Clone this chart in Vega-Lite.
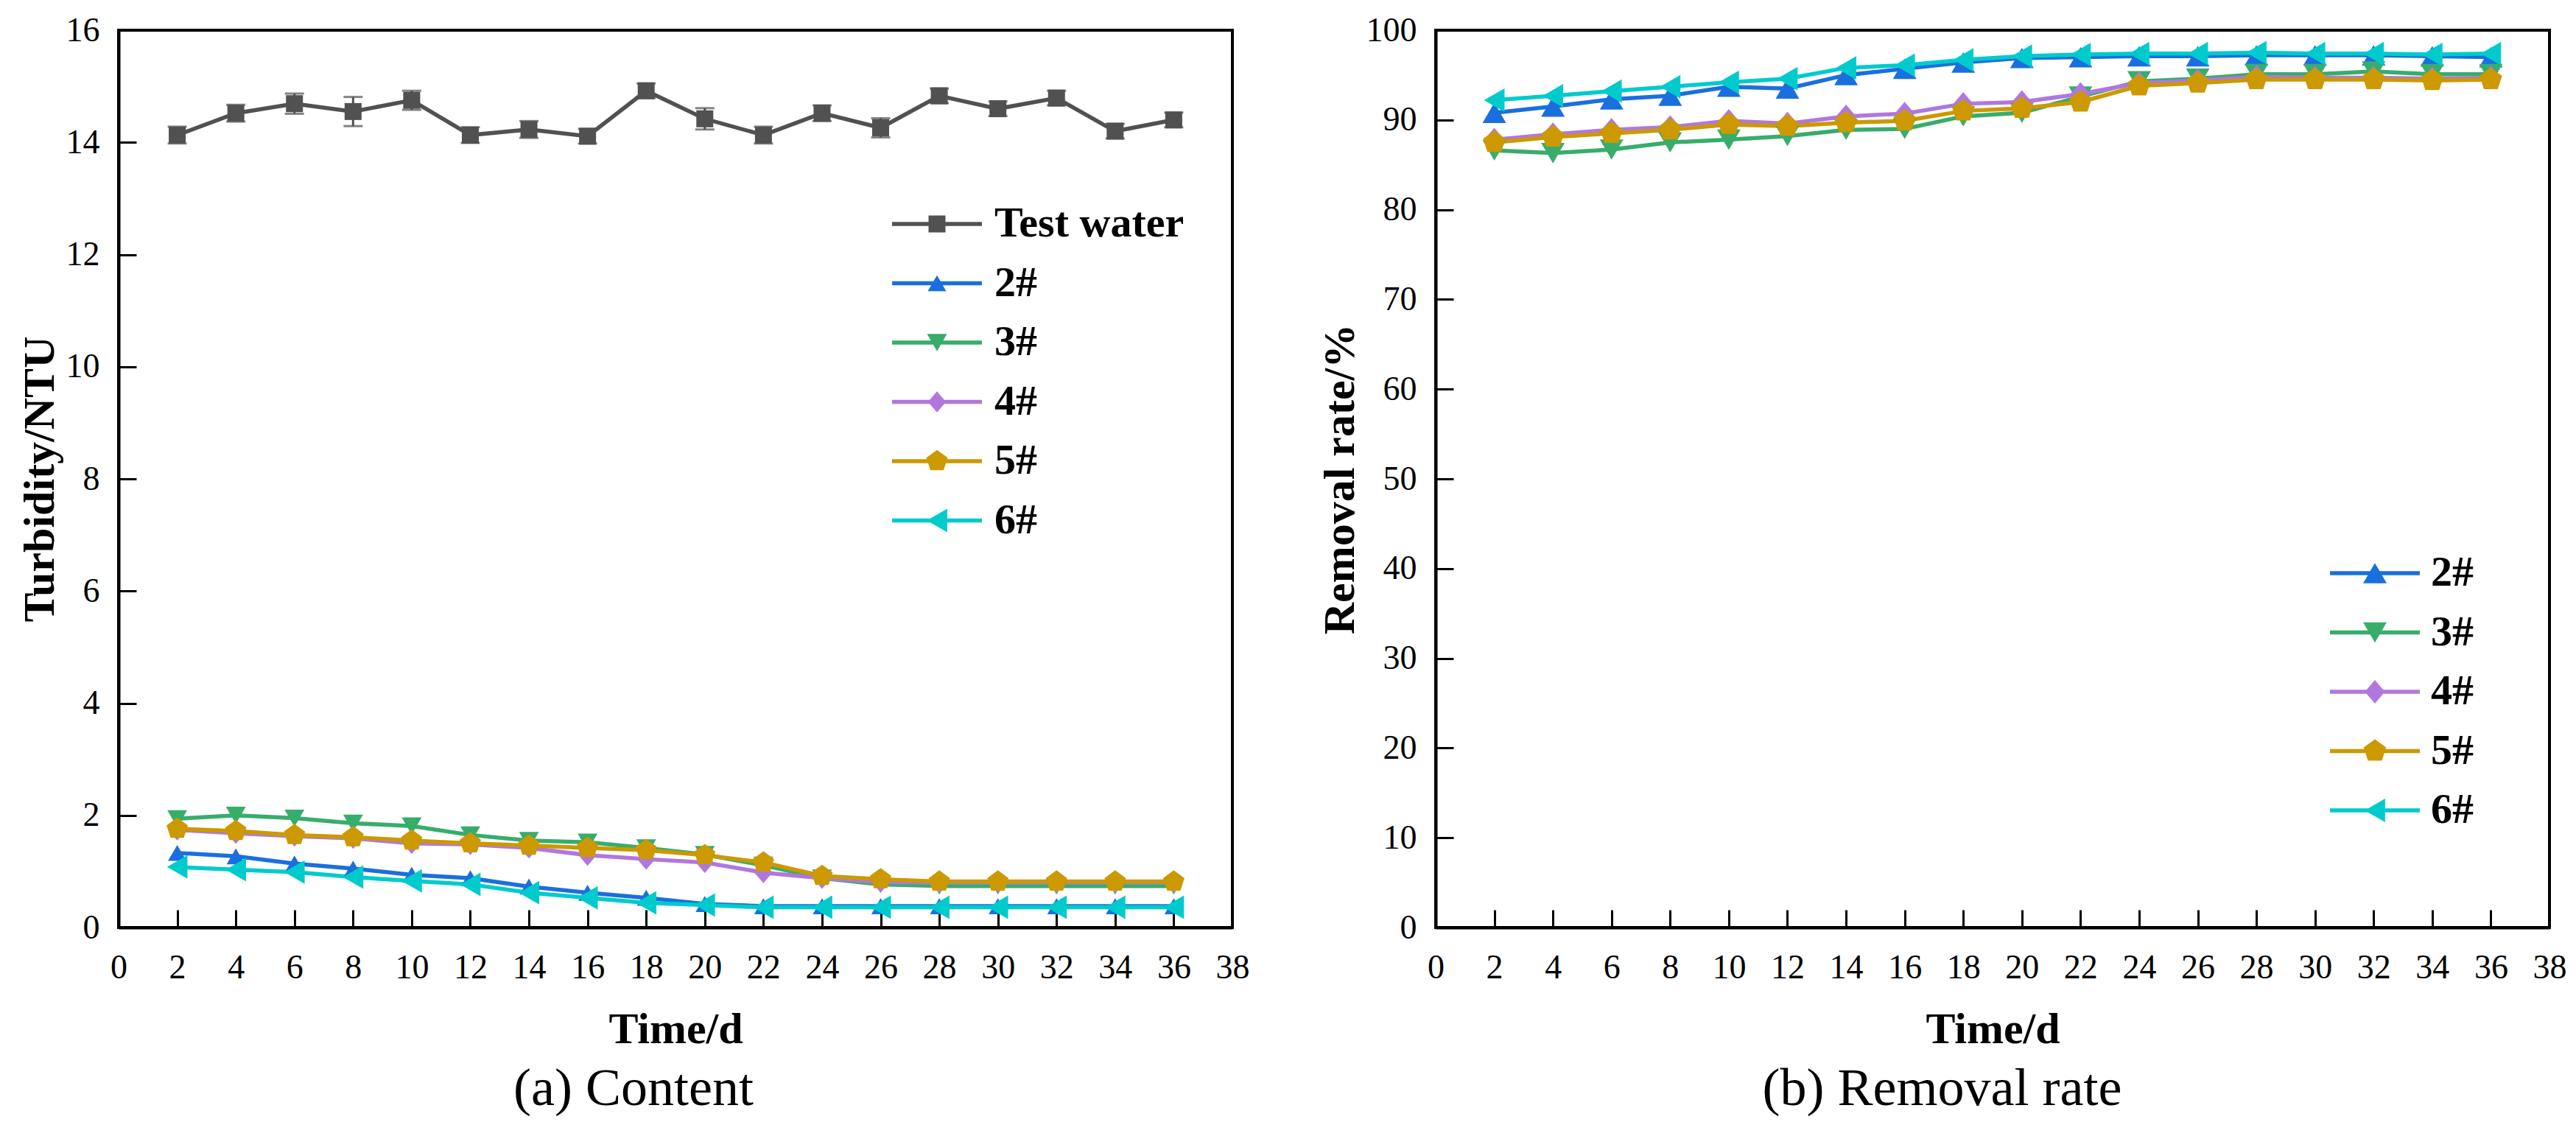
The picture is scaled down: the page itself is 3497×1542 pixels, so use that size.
{
  "$schema": "https://vega.github.io/schema/vega-lite/v6.json",
  "padding": {"left": 22, "top": 16, "right": 38, "bottom": 20},
  "background": "white",
  "datasets": {
    "turbidity": [
      {"day": 2, "series": "Test water", "value": 14.13, "err": 0.15},
      {"day": 4, "series": "Test water", "value": 14.52, "err": 0.15},
      {"day": 6, "series": "Test water", "value": 14.69, "err": 0.18},
      {"day": 8, "series": "Test water", "value": 14.55, "err": 0.26},
      {"day": 10, "series": "Test water", "value": 14.75, "err": 0.17},
      {"day": 12, "series": "Test water", "value": 14.13, "err": 0.14},
      {"day": 14, "series": "Test water", "value": 14.23, "err": 0.15},
      {"day": 16, "series": "Test water", "value": 14.11, "err": 0.13},
      {"day": 18, "series": "Test water", "value": 14.92, "err": 0.13},
      {"day": 20, "series": "Test water", "value": 14.42, "err": 0.19},
      {"day": 22, "series": "Test water", "value": 14.13, "err": 0.15},
      {"day": 24, "series": "Test water", "value": 14.52, "err": 0.14},
      {"day": 26, "series": "Test water", "value": 14.26, "err": 0.17},
      {"day": 28, "series": "Test water", "value": 14.83, "err": 0.13},
      {"day": 30, "series": "Test water", "value": 14.6, "err": 0.13},
      {"day": 32, "series": "Test water", "value": 14.79, "err": 0.13},
      {"day": 34, "series": "Test water", "value": 14.2, "err": 0.13},
      {"day": 36, "series": "Test water", "value": 14.4, "err": 0.13},
      {"day": 2, "series": "2#", "value": 1.33},
      {"day": 4, "series": "2#", "value": 1.27},
      {"day": 6, "series": "2#", "value": 1.14},
      {"day": 8, "series": "2#", "value": 1.05},
      {"day": 10, "series": "2#", "value": 0.94},
      {"day": 12, "series": "2#", "value": 0.88},
      {"day": 14, "series": "2#", "value": 0.73},
      {"day": 16, "series": "2#", "value": 0.62},
      {"day": 18, "series": "2#", "value": 0.53},
      {"day": 20, "series": "2#", "value": 0.42},
      {"day": 22, "series": "2#", "value": 0.38},
      {"day": 24, "series": "2#", "value": 0.38},
      {"day": 26, "series": "2#", "value": 0.38},
      {"day": 28, "series": "2#", "value": 0.38},
      {"day": 30, "series": "2#", "value": 0.38},
      {"day": 32, "series": "2#", "value": 0.38},
      {"day": 34, "series": "2#", "value": 0.38},
      {"day": 36, "series": "2#", "value": 0.38},
      {"day": 2, "series": "3#", "value": 1.94},
      {"day": 4, "series": "3#", "value": 2.0},
      {"day": 6, "series": "3#", "value": 1.95},
      {"day": 8, "series": "3#", "value": 1.86},
      {"day": 10, "series": "3#", "value": 1.81},
      {"day": 12, "series": "3#", "value": 1.65},
      {"day": 14, "series": "3#", "value": 1.55},
      {"day": 16, "series": "3#", "value": 1.52},
      {"day": 18, "series": "3#", "value": 1.42},
      {"day": 20, "series": "3#", "value": 1.3},
      {"day": 22, "series": "3#", "value": 1.11},
      {"day": 24, "series": "3#", "value": 0.88},
      {"day": 26, "series": "3#", "value": 0.77},
      {"day": 28, "series": "3#", "value": 0.74},
      {"day": 30, "series": "3#", "value": 0.74},
      {"day": 32, "series": "3#", "value": 0.74},
      {"day": 34, "series": "3#", "value": 0.74},
      {"day": 36, "series": "3#", "value": 0.74},
      {"day": 2, "series": "4#", "value": 1.74},
      {"day": 4, "series": "4#", "value": 1.68},
      {"day": 6, "series": "4#", "value": 1.63},
      {"day": 8, "series": "4#", "value": 1.59},
      {"day": 10, "series": "4#", "value": 1.5},
      {"day": 12, "series": "4#", "value": 1.48},
      {"day": 14, "series": "4#", "value": 1.42},
      {"day": 16, "series": "4#", "value": 1.29},
      {"day": 18, "series": "4#", "value": 1.22},
      {"day": 20, "series": "4#", "value": 1.16},
      {"day": 22, "series": "4#", "value": 0.98},
      {"day": 24, "series": "4#", "value": 0.88},
      {"day": 26, "series": "4#", "value": 0.81},
      {"day": 28, "series": "4#", "value": 0.8},
      {"day": 30, "series": "4#", "value": 0.8},
      {"day": 32, "series": "4#", "value": 0.8},
      {"day": 34, "series": "4#", "value": 0.8},
      {"day": 36, "series": "4#", "value": 0.8},
      {"day": 2, "series": "5#", "value": 1.76},
      {"day": 4, "series": "5#", "value": 1.72},
      {"day": 6, "series": "5#", "value": 1.65},
      {"day": 8, "series": "5#", "value": 1.61},
      {"day": 10, "series": "5#", "value": 1.55},
      {"day": 12, "series": "5#", "value": 1.5},
      {"day": 14, "series": "5#", "value": 1.46},
      {"day": 16, "series": "5#", "value": 1.42},
      {"day": 18, "series": "5#", "value": 1.38},
      {"day": 20, "series": "5#", "value": 1.29},
      {"day": 22, "series": "5#", "value": 1.16},
      {"day": 24, "series": "5#", "value": 0.92},
      {"day": 26, "series": "5#", "value": 0.86},
      {"day": 28, "series": "5#", "value": 0.82},
      {"day": 30, "series": "5#", "value": 0.82},
      {"day": 32, "series": "5#", "value": 0.82},
      {"day": 34, "series": "5#", "value": 0.82},
      {"day": 36, "series": "5#", "value": 0.82},
      {"day": 2, "series": "6#", "value": 1.08},
      {"day": 4, "series": "6#", "value": 1.03},
      {"day": 6, "series": "6#", "value": 0.99},
      {"day": 8, "series": "6#", "value": 0.9},
      {"day": 10, "series": "6#", "value": 0.83},
      {"day": 12, "series": "6#", "value": 0.77},
      {"day": 14, "series": "6#", "value": 0.62},
      {"day": 16, "series": "6#", "value": 0.53},
      {"day": 18, "series": "6#", "value": 0.44},
      {"day": 20, "series": "6#", "value": 0.4},
      {"day": 22, "series": "6#", "value": 0.36},
      {"day": 24, "series": "6#", "value": 0.36},
      {"day": 26, "series": "6#", "value": 0.36},
      {"day": 28, "series": "6#", "value": 0.36},
      {"day": 30, "series": "6#", "value": 0.36},
      {"day": 32, "series": "6#", "value": 0.36},
      {"day": 34, "series": "6#", "value": 0.36},
      {"day": 36, "series": "6#", "value": 0.36}
    ],
    "removal": [
      {"day": 2, "series": "2#", "value": 90.8},
      {"day": 4, "series": "2#", "value": 91.5},
      {"day": 6, "series": "2#", "value": 92.3},
      {"day": 8, "series": "2#", "value": 92.7},
      {"day": 10, "series": "2#", "value": 93.7},
      {"day": 12, "series": "2#", "value": 93.5},
      {"day": 14, "series": "2#", "value": 95.0},
      {"day": 16, "series": "2#", "value": 95.7},
      {"day": 18, "series": "2#", "value": 96.4},
      {"day": 20, "series": "2#", "value": 96.9},
      {"day": 22, "series": "2#", "value": 97.0},
      {"day": 24, "series": "2#", "value": 97.1},
      {"day": 26, "series": "2#", "value": 97.1},
      {"day": 28, "series": "2#", "value": 97.2},
      {"day": 30, "series": "2#", "value": 97.2},
      {"day": 32, "series": "2#", "value": 97.2},
      {"day": 34, "series": "2#", "value": 97.1},
      {"day": 36, "series": "2#", "value": 97.0},
      {"day": 2, "series": "3#", "value": 86.6},
      {"day": 4, "series": "3#", "value": 86.3},
      {"day": 6, "series": "3#", "value": 86.7},
      {"day": 8, "series": "3#", "value": 87.5},
      {"day": 10, "series": "3#", "value": 87.8},
      {"day": 12, "series": "3#", "value": 88.2},
      {"day": 14, "series": "3#", "value": 88.9},
      {"day": 16, "series": "3#", "value": 89.0},
      {"day": 18, "series": "3#", "value": 90.4},
      {"day": 20, "series": "3#", "value": 90.8},
      {"day": 22, "series": "3#", "value": 92.6},
      {"day": 24, "series": "3#", "value": 94.3},
      {"day": 26, "series": "3#", "value": 94.6},
      {"day": 28, "series": "3#", "value": 95.1},
      {"day": 30, "series": "3#", "value": 95.1},
      {"day": 32, "series": "3#", "value": 95.4},
      {"day": 34, "series": "3#", "value": 95.1},
      {"day": 36, "series": "3#", "value": 95.1},
      {"day": 2, "series": "4#", "value": 87.8},
      {"day": 4, "series": "4#", "value": 88.4},
      {"day": 6, "series": "4#", "value": 88.9},
      {"day": 8, "series": "4#", "value": 89.2},
      {"day": 10, "series": "4#", "value": 89.9},
      {"day": 12, "series": "4#", "value": 89.6},
      {"day": 14, "series": "4#", "value": 90.4},
      {"day": 16, "series": "4#", "value": 90.7},
      {"day": 18, "series": "4#", "value": 91.8},
      {"day": 20, "series": "4#", "value": 92.0},
      {"day": 22, "series": "4#", "value": 92.9},
      {"day": 24, "series": "4#", "value": 94.1},
      {"day": 26, "series": "4#", "value": 94.4},
      {"day": 28, "series": "4#", "value": 94.8},
      {"day": 30, "series": "4#", "value": 94.7},
      {"day": 32, "series": "4#", "value": 94.7},
      {"day": 34, "series": "4#", "value": 94.6},
      {"day": 36, "series": "4#", "value": 94.7},
      {"day": 2, "series": "5#", "value": 87.5},
      {"day": 4, "series": "5#", "value": 88.1},
      {"day": 6, "series": "5#", "value": 88.5},
      {"day": 8, "series": "5#", "value": 88.9},
      {"day": 10, "series": "5#", "value": 89.5},
      {"day": 12, "series": "5#", "value": 89.3},
      {"day": 14, "series": "5#", "value": 89.7},
      {"day": 16, "series": "5#", "value": 89.9},
      {"day": 18, "series": "5#", "value": 91.0},
      {"day": 20, "series": "5#", "value": 91.3},
      {"day": 22, "series": "5#", "value": 92.0},
      {"day": 24, "series": "5#", "value": 93.8},
      {"day": 26, "series": "5#", "value": 94.1},
      {"day": 28, "series": "5#", "value": 94.5},
      {"day": 30, "series": "5#", "value": 94.5},
      {"day": 32, "series": "5#", "value": 94.5},
      {"day": 34, "series": "5#", "value": 94.4},
      {"day": 36, "series": "5#", "value": 94.5},
      {"day": 2, "series": "6#", "value": 92.2},
      {"day": 4, "series": "6#", "value": 92.7},
      {"day": 6, "series": "6#", "value": 93.2},
      {"day": 8, "series": "6#", "value": 93.7},
      {"day": 10, "series": "6#", "value": 94.2},
      {"day": 12, "series": "6#", "value": 94.6},
      {"day": 14, "series": "6#", "value": 95.8},
      {"day": 16, "series": "6#", "value": 96.1},
      {"day": 18, "series": "6#", "value": 96.7},
      {"day": 20, "series": "6#", "value": 97.1},
      {"day": 22, "series": "6#", "value": 97.3},
      {"day": 24, "series": "6#", "value": 97.4},
      {"day": 26, "series": "6#", "value": 97.4},
      {"day": 28, "series": "6#", "value": 97.5},
      {"day": 30, "series": "6#", "value": 97.4},
      {"day": 32, "series": "6#", "value": 97.4},
      {"day": 34, "series": "6#", "value": 97.3},
      {"day": 36, "series": "6#", "value": 97.4}
    ]
  },
  "bounds": "flush",
  "spacing": 276,
  "resolve": {
    "scale": {"color": "independent", "fill": "independent", "shape": "independent", "size": "independent"},
    "legend": {"color": "independent", "fill": "independent", "shape": "independent", "size": "independent"}
  },
  "hconcat": [
    {
      "width": 1512,
      "height": 1218,
      "title": {"text": "(a) Content"},
      "data": {"name": "turbidity"},
      "encoding": {
        "x": {
          "field": "day", "type": "quantitative",
          "scale": {"domain": [0, 38], "nice": false},
          "axis": {"values": [0, 2, 4, 6, 8, 10, 12, 14, 16, 18, 20, 22, 24, 26, 28, 30, 32, 34, 36, 38], "title": "Time/d", "labelFont": "Liberation Serif"}
        },
        "y": {
          "field": "value", "type": "quantitative",
          "scale": {"domain": [0, 16], "nice": false},
          "axis": {"values": [0, 2, 4, 6, 8, 10, 12, 14, 16], "title": "Turbidity/NTU", "labelFont": "Liberation Serif"}
        }
      },
      "layer": [
        {
          "transform": [{"filter": "datum.series === 'Test water'"}],
          "mark": {"type": "errorbar", "ticks": true, "size": 26, "thickness": 3, "color": "#515151"},
          "encoding": {"yError": {"field": "err"}}
        },
        {
          "mark": {"type": "line", "strokeWidth": 5.5},
          "encoding": {
            "color": {
              "field": "series", "type": "nominal",
              "sort": ["Test water", "2#", "3#", "4#", "5#", "6#"],
              "scale": {"range": ["#515151", "#1A6FDF", "#37AD6B", "#B177DE", "#CC9900", "#00CBCC"]},
              "legend": {"title": null, "legendX": 1082, "legendY": 234, "symbolType": "M-4,0H4", "symbolSize": 930, "symbolStrokeWidth": 5.5, "labelOffset": 49}
            }
          }
        },
        {
          "mark": {"type": "point", "filled": true, "opacity": 1, "strokeWidth": 0},
          "encoding": {
            "fill": {
              "field": "series", "type": "nominal",
              "scale": {"domain": ["Test water", "2#", "3#", "4#", "5#", "6#"], "range": ["#515151", "#1A6FDF", "#37AD6B", "#B177DE", "#CC9900", "#00CBCC"]},
              "legend": {"title": null, "legendX": 1082, "legendY": 234, "labelExpr": "' '", "labelOpacity": 0, "symbolStrokeWidth": 0, "symbolOpacity": 1}
            },
            "shape": {
              "field": "series", "type": "nominal",
              "scale": {"domain": ["Test water", "2#", "3#", "4#", "5#", "6#"], "range": ["square", "triangle-up", "triangle-down", "M0,-1L0.85,0L0,1L-0.85,0Z", "M0,-1L0.951,-0.309L0.588,0.809L-0.588,0.809L-0.951,-0.309Z", "triangle-left"]},
              "legend": {"title": null, "legendX": 1082, "legendY": 234, "labelExpr": "' '", "labelOpacity": 0, "symbolStrokeWidth": 0, "symbolOpacity": 1}
            },
            "size": {
              "field": "series", "type": "nominal",
              "scale": {"domain": ["Test water", "2#", "3#", "4#", "5#", "6#"], "range": [529, 1024, 1024, 1024, 870, 961]},
              "legend": {"title": null, "legendX": 1082, "legendY": 234, "labelExpr": "' '", "labelOpacity": 0, "symbolStrokeWidth": 0, "symbolOpacity": 1}
            }
          }
        }
      ]
    },
    {
      "width": 1512,
      "height": 1218,
      "title": {"text": "(b) Removal rate"},
      "data": {"name": "removal"},
      "encoding": {
        "x": {
          "field": "day", "type": "quantitative",
          "scale": {"domain": [0, 38], "nice": false},
          "axis": {"values": [0, 2, 4, 6, 8, 10, 12, 14, 16, 18, 20, 22, 24, 26, 28, 30, 32, 34, 36, 38], "title": "Time/d", "labelFont": "Liberation Serif"}
        },
        "y": {
          "field": "value", "type": "quantitative",
          "scale": {"domain": [0, 100], "nice": false},
          "axis": {"values": [0, 10, 20, 30, 40, 50, 60, 70, 80, 90, 100], "title": "Removal rate/%", "labelFont": "Liberation Serif"}
        }
      },
      "layer": [
        {
          "mark": {"type": "line", "strokeWidth": 5.5},
          "encoding": {
            "color": {
              "field": "series", "type": "nominal",
              "sort": ["2#", "3#", "4#", "5#", "6#"],
              "scale": {"range": ["#1A6FDF", "#37AD6B", "#B177DE", "#CC9900", "#00CBCC"]},
              "legend": {"title": null, "legendX": 1246, "legendY": 708, "symbolType": "M-4,0H4", "symbolSize": 930, "symbolStrokeWidth": 5.5, "labelOffset": 47}
            }
          }
        },
        {
          "mark": {"type": "point", "filled": true, "opacity": 1, "strokeWidth": 0},
          "encoding": {
            "fill": {
              "field": "series", "type": "nominal",
              "scale": {"domain": ["2#", "3#", "4#", "5#", "6#"], "range": ["#1A6FDF", "#37AD6B", "#B177DE", "#CC9900", "#00CBCC"]},
              "legend": {"title": null, "legendX": 1246, "legendY": 708, "labelExpr": "' '", "labelOpacity": 0, "symbolStrokeWidth": 0, "symbolOpacity": 1}
            },
            "shape": {
              "field": "series", "type": "nominal",
              "scale": {"domain": ["2#", "3#", "4#", "5#", "6#"], "range": ["triangle-up", "triangle-down", "M0,-1L0.85,0L0,1L-0.85,0Z", "M0,-1L0.951,-0.309L0.588,0.809L-0.588,0.809L-0.951,-0.309Z", "triangle-left"]},
              "legend": {"title": null, "legendX": 1246, "legendY": 708, "labelExpr": "' '", "labelOpacity": 0, "symbolStrokeWidth": 0, "symbolOpacity": 1}
            },
            "size": {
              "field": "series", "type": "nominal",
              "scale": {"domain": ["2#", "3#", "4#", "5#", "6#"], "range": [1024, 1024, 1024, 870, 961]},
              "legend": {"title": null, "legendX": 1246, "legendY": 708, "labelExpr": "' '", "labelOpacity": 0, "symbolStrokeWidth": 0, "symbolOpacity": 1}
            }
          }
        }
      ]
    }
  ],
  "config": {
    "view": {"stroke": "black", "strokeWidth": 4},
    "font": "Liberation Serif",
    "style": {
      "guide-label": {"font": "Liberation Serif"},
      "guide-title": {"font": "Liberation Serif"}
    },
    "axis": {
      "labelFont": "Liberation Serif", "labelFontSize": 46, "labelColor": "black",
      "titleFont": "Liberation Serif", "titleFontSize": 60, "titleFontWeight": "bold", "titleColor": "black",
      "domainColor": "black", "domainWidth": 4,
      "tickColor": "black", "tickWidth": 3, "tickSize": -24,
      "grid": false, "labelFlush": false, "labelOverlap": false
    },
    "axisX": {"labelPadding": 56, "titlePadding": 32},
    "axisY": {"labelPadding": 50, "titlePadding": 4},
    "legend": {
      "orient": "none", "padding": 0, "rowPadding": 22.5, "labelLimit": 0,
      "labelFont": "Liberation Serif", "labelFontSize": 58, "labelFontWeight": "bold", "labelColor": "black"
    },
    "title": {
      "orient": "bottom", "anchor": "middle", "frame": "bounds",
      "font": "Liberation Serif", "fontSize": 72, "fontWeight": "normal", "color": "black", "offset": 16
    }
  }
}
